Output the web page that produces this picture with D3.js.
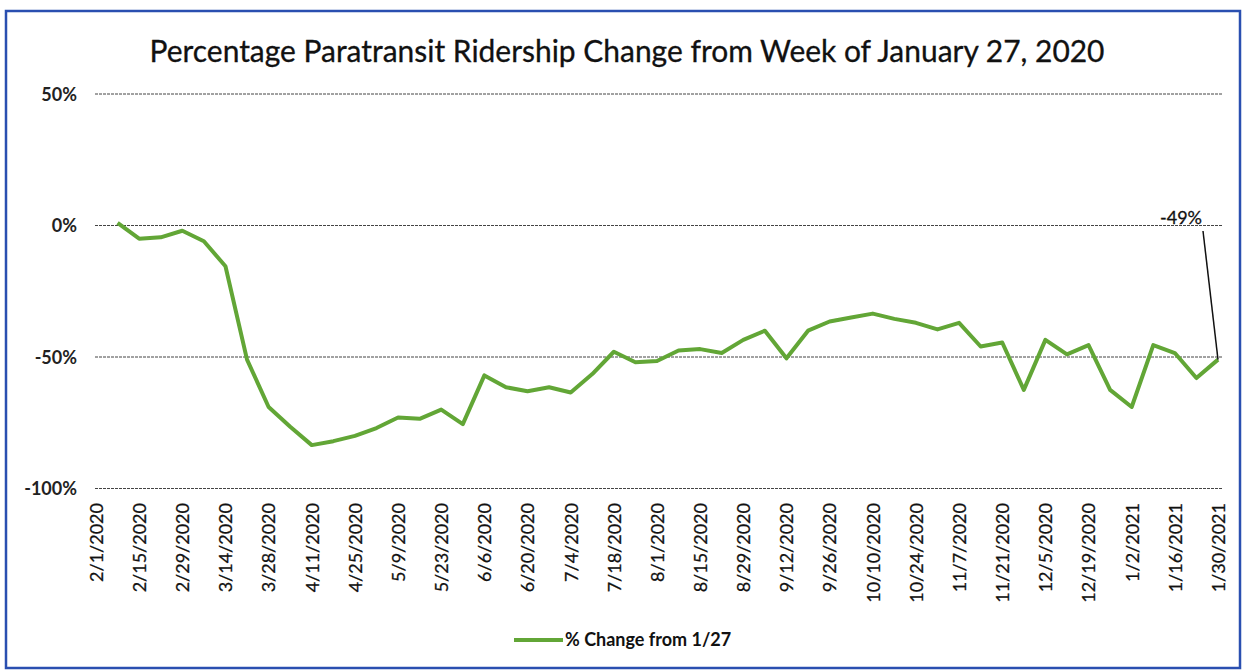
<!DOCTYPE html>
<html>
<head>
<meta charset="utf-8">
<script src="https://cdn.jsdelivr.net/npm/d3@7"></script>
<style>
  html, body { margin: 0; padding: 0; background: #fff; }
  svg { display: block; }
</style>
</head>
<body>
<svg id="chart" width="1246" height="670"></svg>
<script>
// ---- data ----
const weeks = ["2/1/2020","2/8/2020","2/15/2020","2/22/2020","2/29/2020","3/7/2020","3/14/2020","3/21/2020","3/28/2020","4/4/2020","4/11/2020","4/18/2020","4/25/2020","5/2/2020","5/9/2020","5/16/2020","5/23/2020","5/30/2020","6/6/2020","6/13/2020","6/20/2020","6/27/2020","7/4/2020","7/11/2020","7/18/2020","7/25/2020","8/1/2020","8/8/2020","8/15/2020","8/22/2020","8/29/2020","9/5/2020","9/12/2020","9/19/2020","9/26/2020","10/3/2020","10/10/2020","10/17/2020","10/24/2020","10/31/2020","11/7/2020","11/14/2020","11/21/2020","11/28/2020","12/5/2020","12/12/2020","12/19/2020","12/26/2020","1/2/2021","1/9/2021","1/16/2021","1/23/2021","1/30/2021"];
const pctChange = [null, 1, -5, -4.5, -2, -6, -15.5, -51, -69, -76.5, -83.5, -82, -80, -77, -73, -73.5, -70, -75.5, -57, -61.5, -63, -61.5, -63.5, -56.5, -48, -52, -51.5, -47.5, -47, -48.5, -43.5, -40, -50.5, -40, -36.5, -35, -33.5, -35.5, -37, -39.5, -37, -46, -44.5, -62.5, -43.5, -49, -45.5, -62.5, -69, -45.5, -48.5, -58, -51];
const tickLabels = weeks.filter((d, i) => i % 2 === 0);
const yTicks = [50, 0, -50, -100];
const titleText = "Percentage Paratransit Ridership Change from Week of January 27, 2020";
const seriesName = "% Change from 1/27";
const annotationText = "-49%";

// ---- layout ----
const svg = d3.select("#chart");
const FONT = "Lato, 'Open Sans', sans-serif";

svg.append("rect").attr("x", 6).attr("y", 11).attr("width", 1234).attr("height", 657)
  .attr("fill", "#fff").attr("stroke", "#2a4fb0").attr("stroke-width", 2.5);

const x = d3.scalePoint().domain(weeks).range([96, 1218]);
const y = d3.scaleLinear().domain([-100, 50]).range([488.5, 94]);

// title
svg.append("text").attr("x", 627).attr("y", 62).attr("text-anchor", "middle")
  .attr("font-family", FONT).attr("font-size", 30).attr("fill", "#111")
  .attr("stroke", "#111").attr("stroke-width", 0.3)
  .attr("textLength", 955).attr("lengthAdjust", "spacingAndGlyphs")
  .text(titleText);

// gridlines
svg.append("g").selectAll("line").data(yTicks).join("line")
  .attr("x1", 95).attr("x2", 1222)
  .attr("y1", d => y(d)).attr("y2", d => y(d))
  .attr("stroke", "#444").attr("stroke-width", 1).attr("stroke-dasharray", "3,1");

// y axis labels
const yAxis = d3.axisLeft(y).tickValues(yTicks).tickSize(0).tickPadding(0).tickFormat(d => d + "%");
const gy = svg.append("g").attr("transform", "translate(77,0)").call(yAxis);
gy.select(".domain").remove();
gy.selectAll("text").attr("font-family", FONT).attr("font-size", 18).attr("font-weight", "bold")
  .attr("fill", "#222").attr("dy", "0.35em");

// x axis labels
const xAxis = d3.axisBottom(x).tickValues(tickLabels).tickSize(0).tickPadding(0);
const gx = svg.append("g").attr("transform", "translate(0,503)").call(xAxis);
gx.select(".domain").remove();
gx.selectAll("text")
  .attr("font-family", FONT).attr("font-size", 18).attr("fill", "#111")
  .attr("stroke", "#111").attr("stroke-width", 0.25)
  .attr("text-anchor", "end").attr("dy", "0.35em").attr("y", 0)
  .attr("transform", "rotate(-90)");

// line
const line = d3.line()
  .defined(d => d.v !== null)
  .x(d => x(d.w)).y(d => y(d.v));
const pts = weeks.map((w, i) => ({ w, v: pctChange[i] }));
svg.append("path").datum(pts).attr("d", line)
  .attr("fill", "none").attr("stroke", "#62a636").attr("stroke-width", 4)
  .attr("stroke-linejoin", "round");

// annotation
const last = pts[pts.length - 1];
svg.append("line").attr("x1", 1203).attr("y1", 231)
  .attr("x2", x(last.w)).attr("y2", y(last.v))
  .attr("stroke", "#111").attr("stroke-width", 1.5);
svg.append("text").attr("x", 1202).attr("y", 224).attr("text-anchor", "end")
  .attr("font-family", FONT).attr("font-size", 18).attr("fill", "#111")
  .attr("stroke", "#111").attr("stroke-width", 0.3)
  .text(annotationText);

// legend
svg.append("line").attr("x1", 514).attr("x2", 563).attr("y1", 640).attr("y2", 640)
  .attr("stroke", "#62a636").attr("stroke-width", 4);
svg.append("text").attr("x", 565).attr("y", 646)
  .attr("font-family", FONT).attr("font-size", 18).attr("font-weight", "bold").attr("fill", "#111")
  .text(seriesName);
</script>
</body>
</html>
